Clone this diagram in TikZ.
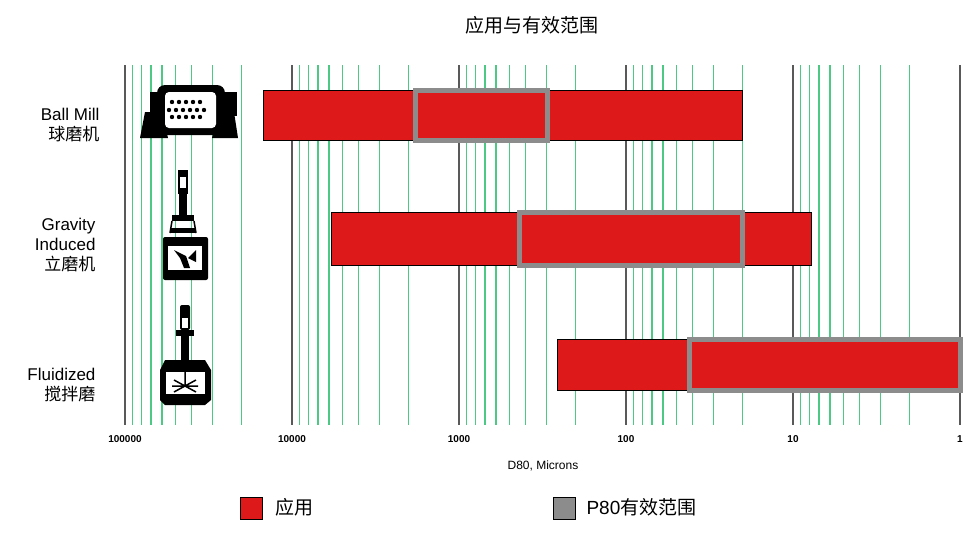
\documentclass[tikz,border=0pt]{standalone}
\usepackage{fontspec}
\setmainfont{Liberation Sans}
\newfontfamily\cjk{Noto Sans CJK SC}
\begin{document}
\begin{tikzpicture}[x=1pt,y=-1pt,
  grid/.style={draw=teal!60!green!70!white,line width=1.3pt},
  dec/.style={draw=black!65,line width=1.5pt},
  redbar/.style={draw=black,fill=red!85!black!90,line width=0.8pt},
  p80/.style={draw=black!45,line width=5pt},
  lab/.style={font=\fontsize{17}{20}\selectfont,align=right,anchor=east},
  tick/.style={font=\bfseries\fontsize{10}{12}\selectfont,anchor=north}]
\useasboundingbox (0,0) rectangle (980,533);
\def\X#1{960-167*log10(#1)}
% grid
\foreach \d in {0,...,4}{
  \foreach \m in {2,...,9}{
    \pgfmathsetmacro\xx{960-167*(\d+log10(\m))}
    \draw[grid] (\xx,65) -- (\xx,425);}}
\foreach \d in {0,...,5}{
  \pgfmathsetmacro\xx{960-167*\d}
  \draw[dec] (\xx,65) -- (\xx,425);}
% ticks
\node[tick] (t5) at (125,432) {100000};
\node[tick] (t4) at (292,432) {10000};
\node[tick] (t3) at (459,432) {1000};
\node[tick] (t2) at (626,432) {100};
\node[tick] (t1) at (793,432) {10};
\node[tick] (t0) at (960,432) {1};
\node[font=\fontsize{12}{14}\selectfont] (ax) at (543,466) {D80, Microns};
\node[font=\cjk\fontsize{19}{22}\selectfont] (title) at (532,25) {应用与有效范围};
% bars
\draw[redbar] (263,90) rectangle (742,140);
\draw[p80] (415,90) rectangle (547,140);
\draw[redbar] (331,212) rectangle (811,265);
\draw[p80] (519,212) rectangle (742,265);
\draw[redbar] (557,339) rectangle (958,390);
\draw[p80] (689,339) rectangle (960,390);
% labels
\node[lab] (l1) at (103,125) {Ball Mill\\{\cjk 球磨机}};
\node[lab] (l2) at (99,245) {Gravity\\Induced\\{\cjk 立磨机}};
\node[lab] (l3) at (99,385) {Fluidized\\{\cjk 搅拌磨}};
% ball mill icon
\fill[black] (150,92) rectangle (168,116);
\fill[black] (222,92) rectangle (237,116);
\fill[black] (145,112) -- (162,112) -- (168,138) -- (140,138) -- cycle;
\fill[black] (218,112) -- (234,112) -- (238,138) -- (212,138) -- cycle;
\fill[black, rounded corners=8pt] (157,85) rectangle (225,135);
\fill[white, rounded corners=4pt] (165,92) rectangle (216,128);
\foreach \i in {0,...,4}{\fill (172+\i*7,102) circle (2.2);\fill (172+\i*7,117) circle (2.2);}
\foreach \i in {0,...,5}{\fill (169+\i*7,110) circle (2.2);}
% gravity icon
\fill[black] (178,170) rectangle (188,194);
\fill[white] (180,177) rectangle (186,188);
\fill[black] (179,194) rectangle (187,215);
\fill[black] (172,215) rectangle (194,221);
\fill[black] (170,228) rectangle (196,233);
\draw[black,line width=1.5pt] (172,221) -- (170,233) (194,221) -- (196,233);
\fill[black, rounded corners=2pt] (163,237) rectangle (208,280);
\fill[white] (168,246) rectangle (202,270);
\fill[black] (174,250) -- (186,256) -- (190,268) -- (184,268) -- (180,258) -- cycle;
\fill[black] (196,250) -- (188,258) -- (196,262) -- cycle;
% fluidized icon
\fill[black,rounded corners=2pt] (180,305) rectangle (190,330);
\fill[white] (182,318) rectangle (188,328);
\fill[black] (176,330) rectangle (194,336);
\fill[black] (181,336) rectangle (189,360);
\fill[black] (165,360) -- (205,360) -- (211,370) -- (211,400) -- (205,405) -- (165,405) -- (160,400) -- (160,370) -- cycle;
\fill[white] (166,372) rectangle (205,394);
\draw[black,line width=1.5pt] (185,372) -- (185,386) (174,380) -- (196,392) (174,392) -- (196,380) (172,386) -- (198,386);
% legend
\fill[red!85!black!90,draw=black] (240,497) rectangle (262,519);
\node[font=\cjk\fontsize{19}{22}\selectfont,anchor=west] (lg1) at (272,507) {应用};
\fill[black!45,draw=black] (553,497) rectangle (575,519);
\node[font=\fontsize{19}{22}\selectfont,anchor=west] (lg2) at (583,507) {P80{\cjk 有效范围}};
\end{tikzpicture}
\end{document}
